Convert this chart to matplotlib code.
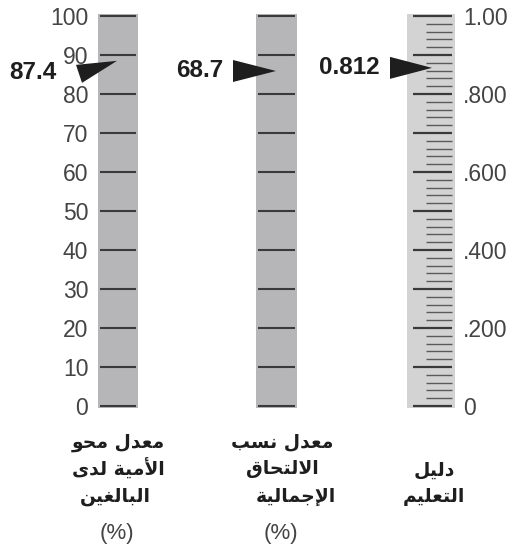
import matplotlib
matplotlib.use("Agg")
import matplotlib.pyplot as plt
from matplotlib.patches import Polygon

# ---------------- data ----------------
gauge_names = [["معدل محو", "الأمية لدى", "البالغين"],
               ["معدل نسب", "الالتحاق", "الإجمالية"],
               ["دليل", "التعليم"]]
gauge_units = ["(%)", "(%)", ""]
gauge_values = [87.4, 68.7, 0.812]
value_labels = ["87.4", "68.7", "0.812"]
pointer_levels = [88.5, 85.9, 0.867]   # where the pointers sit
scale_max = [100, 100, 1.0]
major_ticks_pct = [0, 10, 20, 30, 40, 50, 60, 70, 80, 90, 100]
tick_labels_pct = ["0", "10", "20", "30", "40", "50", "60", "70", "80", "90", "100"]
major_ticks_idx = [0.0, 0.1, 0.2, 0.3, 0.4, 0.5, 0.6, 0.7, 0.8, 0.9, 1.0]
label_ticks_idx = [0.0, 0.2, 0.4, 0.6, 0.8, 1.0]
tick_labels_idx = ["0", ".200", ".400", ".600", ".800", "1.00"]
minor_ticks_idx = [0.02, 0.04, 0.06, 0.08, 0.12, 0.14, 0.16, 0.18,
                   0.22, 0.24, 0.26, 0.28, 0.32, 0.34, 0.36, 0.38,
                   0.42, 0.44, 0.46, 0.48, 0.52, 0.54, 0.56, 0.58,
                   0.62, 0.64, 0.66, 0.68, 0.72, 0.74, 0.76, 0.78,
                   0.82, 0.84, 0.86, 0.88, 0.92, 0.94, 0.96, 0.98]

# ---------------- minimal Arabic shaping ----------------
FORMS = {
    'ا': ('\uFE8D', '\uFE8E', None, None),
    'أ': ('\uFE83', '\uFE84', None, None),
    'إ': ('\uFE87', '\uFE88', None, None),
    'ب': ('\uFE8F', '\uFE90', '\uFE91', '\uFE92'),
    'ة': ('\uFE93', '\uFE94', None, None),
    'ت': ('\uFE95', '\uFE96', '\uFE97', '\uFE98'),
    'ج': ('\uFE9D', '\uFE9E', '\uFE9F', '\uFEA0'),
    'ح': ('\uFEA1', '\uFEA2', '\uFEA3', '\uFEA4'),
    'د': ('\uFEA9', '\uFEAA', None, None),
    'س': ('\uFEB1', '\uFEB2', '\uFEB3', '\uFEB4'),
    'ع': ('\uFEC9', '\uFECA', '\uFECB', '\uFECC'),
    'غ': ('\uFECD', '\uFECE', '\uFECF', '\uFED0'),
    'ق': ('\uFED5', '\uFED6', '\uFED7', '\uFED8'),
    'ل': ('\uFEDD', '\uFEDE', '\uFEDF', '\uFEE0'),
    'م': ('\uFEE1', '\uFEE2', '\uFEE3', '\uFEE4'),
    'ن': ('\uFEE5', '\uFEE6', '\uFEE7', '\uFEE8'),
    'و': ('\uFEED', '\uFEEE', None, None),
    'ى': ('\uFEEF', '\uFEF0', None, None),
    'ي': ('\uFEF1', '\uFEF2', '\uFEF3', '\uFEF4'),
}
LAMALEF = {'ا': ('\uFEFB', '\uFEFC', None, None),
           'أ': ('\uFEF7', '\uFEF8', None, None),
           'إ': ('\uFEF9', '\uFEFA', None, None),
           'آ': ('\uFEF5', '\uFEF6', None, None)}


def shape(text):
    toks = []
    i = 0
    while i < len(text):
        c = text[i]
        if c == 'ل' and i + 1 < len(text) and text[i + 1] in LAMALEF:
            toks.append((c, LAMALEF[text[i + 1]]))
            i += 2
            continue
        toks.append((c, FORMS.get(c)))
        i += 1
    out = []
    for k, (c, f) in enumerate(toks):
        if f is None:
            out.append(c)
            continue
        prev = toks[k - 1][1] if k > 0 else None
        nxt = toks[k + 1][1] if k + 1 < len(toks) else None
        jp = prev is not None and prev[2] is not None
        jn = f[2] is not None and nxt is not None
        if jp and jn:
            out.append(f[3])
        elif jp:
            out.append(f[1])
        elif jn:
            out.append(f[2])
        else:
            out.append(f[0])
    return ''.join(reversed(out))


# ---------------- figure ----------------
W, H = 511, 549
fig = plt.figure(figsize=(W / 100, H / 100), dpi=100)
fig.patch.set_facecolor("white")

TOP, BOT = 16, 406           # pixel rows of the top/bottom ticks
PAD = 2                      # pixels of bar beyond extreme ticks
gauge_x = [(98, 138), (256, 297), (407, 455)]
bar_colors = ["#b6b6b8", "#b6b6b8", "#d3d3d3"]
label_font = "Liberation Sans"
tick_color = "#444444"


def px_axes(x0, x1):
    return [x0 / W, 1 - (BOT + PAD) / H, (x1 - x0) / W, (BOT - TOP + 2 * PAD) / H]


axes = []
for gi, (x0, x1) in enumerate(gauge_x):
    ax = fig.add_axes(px_axes(x0, x1))
    m = scale_max[gi]
    unit = m / (BOT - TOP)
    ax.set_ylim(-PAD * unit, m + PAD * unit)
    ax.set_xlim(0, 1)
    ax.set_facecolor(bar_colors[gi])
    for s in ax.spines.values():
        s.set_visible(False)
    ax.set_xticks([])
    axes.append(ax)

# left gauge
ax = axes[0]
ax.hlines(major_ticks_pct, 0.05, 0.96, color="#3a3a3a", lw=1.5)
ax.set_yticks(major_ticks_pct)
ax.set_yticklabels(tick_labels_pct, fontsize=16.5, color=tick_color, family=label_font)
ax.tick_params(axis="y", length=0, pad=7)

# middle gauge
ax = axes[1]
ax.hlines(major_ticks_pct, 0.04, 0.96, color="#3a3a3a", lw=1.5)
ax.set_yticks([])

# right gauge
ax = axes[2]
ax.hlines(major_ticks_idx, 0.12, 0.94, color="#3a3a3a", lw=1.6)
ax.hlines(minor_ticks_idx, 0.40, 0.94, color="#5a5a5a", lw=1.0)
ax.yaxis.tick_right()
ax.set_yticks(label_ticks_idx)
ax.set_yticklabels(tick_labels_idx, fontsize=16.5, color=tick_color, family=label_font)
ax.tick_params(axis="y", length=0, pad=6)

# pointers (shape offsets in pixels relative to the tip)
pointer_tip_x = [117, 276, 432]
pointer_shapes = [[(0, 0), (-41, 4), (-35, 22)],
                  [(0, 0), (-43, -11), (-43, 11)],
                  [(0, 0), (-42, -11), (-42, 11)]]
text_offsets = [(-61, 12), (-53, 0), (-52, 0)]
for gi, ax in enumerate(axes):
    x0, x1 = gauge_x[gi]
    wpx = x1 - x0
    unit = scale_max[gi] / (BOT - TOP)
    tipx = (pointer_tip_x[gi] - x0) / wpx
    tipy = pointer_levels[gi]
    pts = [(tipx + dx / wpx, tipy - dy * unit) for dx, dy in pointer_shapes[gi]]
    ax.add_patch(Polygon(pts, closed=True, facecolor="#1e1e1e", edgecolor="none",
                         clip_on=False, zorder=5))
    dx, dy = text_offsets[gi]
    ax.text(tipx + dx / wpx, tipy - dy * unit, value_labels[gi],
            ha="right", va="center", fontsize=17.5, fontweight="bold",
            color="#1e1e1e", family=label_font, clip_on=False)

# bottom captions
caption_cx = [118, 282, 434]
line_y = {3: [442, 469, 497], 2: [470, 497]}
line_dx = [[0, 0, -3], [0, 0, 14], [0, 0]]
for gi, lines in enumerate(gauge_names):
    ys = line_y[len(lines)]
    for li, line in enumerate(lines):
        fig.text((caption_cx[gi] + line_dx[gi][li]) / W, 1 - ys[li] / H, shape(line),
                 ha="center", va="center", fontsize=13.5, fontweight="bold",
                 color="#1e1e1e", family="DejaVu Sans")
    if gauge_units[gi]:
        fig.text((caption_cx[gi] - 1) / W, 1 - 533 / H, gauge_units[gi],
                 ha="center", va="center", fontsize=16, color=tick_color,
                 family=label_font)

fig.savefig("out.png", dpi=100, facecolor="white")
